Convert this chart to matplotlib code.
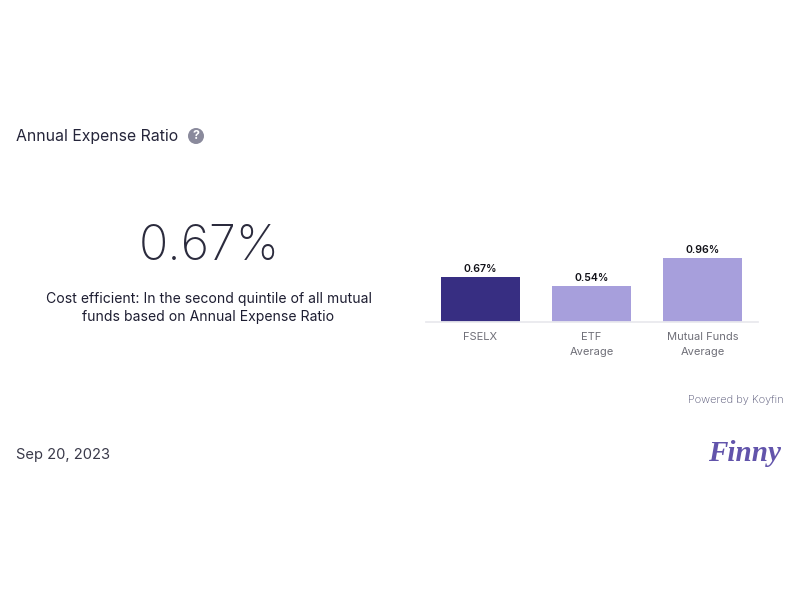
import matplotlib
matplotlib.use("Agg")
import matplotlib.pyplot as plt
from matplotlib.patches import Circle

plt.rcParams['font.family'] = ['Inter', 'DejaVu Sans']

# Values
categories = ["FSELX", "ETF\nAverage", "Mutual Funds\nAverage"]
values = [0.67, 0.54, 0.96]
value_labels = ["0.67%", "0.54%", "0.96%"]
bar_colors = ["#372e82", "#a79fdc", "#a79fdc"]

title = "Annual Expense Ratio"
big_value = "0.67%"
description = "Cost efficient: In the second quintile of all mutual\nfunds based on Annual Expense Ratio"
date_text = "Sep 20, 2023"
powered_text = "Powered by Koyfin"
logo_text = "Finny"

W, H = 800, 600
fig = plt.figure(figsize=(8, 6), dpi=100, facecolor="white")


def fx(px):
    return px / W


def fy(py):
    return 1 - py / H


# bar chart, placed on the same pixels as the reference
ax = fig.add_axes([fx(426), fy(321.5), (758 - 426) / W, 91 / H])
ax.bar(range(3), values, width=0.712, color=bar_colors)
ax.set_xlim(-0.491, 2.5)
ax.set_ylim(0, 1.385)
ax.patch.set_alpha(0)
for side in ["top", "left", "right"]:
    ax.spines[side].set_visible(False)
ax.spines["bottom"].set_color("#e9e9ee")
ax.spines["bottom"].set_linewidth(1.3)
ax.set_yticks([])
ax.set_xticks(range(3))
ax.set_xticklabels(categories, fontsize=8, color="#6f6f78", linespacing=1.6)
ax.tick_params(axis="x", length=0, pad=7.5)

for i, v in enumerate(values):
    ax.annotate(value_labels[i], (i, v), xytext=(0, 2.5), textcoords="offset points",
                ha="center", va="bottom", fontsize=7.6, fontweight="semibold", color="#111118")

# text around the chart
fig.text(fx(16), fy(137), title, fontsize=11.4, color="#25253a", va="center", ha="left")
fig.text(fx(209), fy(247.5), big_value, fontsize=35, fontweight="light", color="#2b2b3d",
         va="center", ha="center")
fig.text(fx(208.5), fy(308), description, fontsize=10.1, color="#1e1e32",
         va="center", ha="center", linespacing=1.35)
fig.text(fx(16), fy(454.5), date_text, fontsize=10.6, color="#3a3a4a", va="center", ha="left")
fig.text(fx(784), fy(400), powered_text, fontsize=7.95, fontweight="light", color="#4e4e70",
         va="center", ha="right")
fig.text(fx(744.5), fy(453.5), logo_text, fontsize=21, fontweight="bold", style="italic",
         family=["Liberation Serif"], color="#6254ab", va="center", ha="center")

# help icon
fig.add_artist(Circle((196, H - 136), 8, transform=None, facecolor="#8a8a9c", edgecolor="none"))
fig.text(fx(196), fy(136), "?", fontsize=9, fontweight="bold", color="white", va="center", ha="center")

fig.savefig("out.png", dpi=100)
